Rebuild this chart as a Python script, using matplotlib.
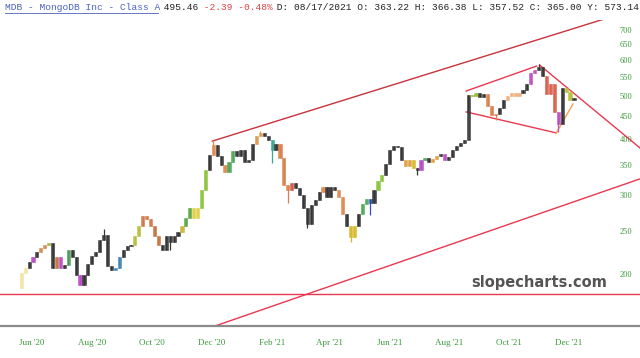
import numpy as np
import pandas as pd
import matplotlib
matplotlib.use('Agg')
import matplotlib.pyplot as plt
import matplotlib.dates as mdates
from matplotlib.ticker import FixedLocator, NullLocator, FuncFormatter
from matplotlib.lines import Line2D

# ---- data, one bar every 4 calendar days ----
first_open = 186
closes = [201, 207, 213, 218, 224, 229, 232, 235, 207, 218,
          207, 210, 227, 218, 199, 189, 199, 211, 220, 224,
          238, 245, 209, 204, 207, 218, 227, 231, 233, 243,
          256, 269, 265, 256, 243, 233, 227, 243, 236, 243,
          248, 256, 267, 281, 267, 281, 308, 341, 369, 388,
          367, 350, 338, 356, 376, 367, 378, 356, 359, 390,
          407, 413, 407, 398, 378, 390, 363, 316, 308, 319,
          311, 300, 281, 259, 285, 293, 305, 313, 298, 313,
          308, 298, 272, 256, 242, 256, 272, 287, 294, 289,
          308, 322, 333, 352, 378, 386, 384, 359, 348, 359,
          345, 341, 359, 363, 356, 362, 367, 371, 359, 365,
          378, 386, 392, 398, 502, 499, 506, 497, 504, 474,
          453, 455, 469, 489, 499, 506, 500, 507, 515, 532,
          562, 570, 580, 553, 504, 531, 460, 432, 520, 510,
          489, 494]
# long wicks: bar index -> extreme price
wick_lows = {38: 227, 64: 354, 68: 288, 73: 254, 84: 236, 89: 271,
             101: 333, 114: 460, 121: 441, 137: 415}
wick_highs = {21: 252, 49: 396, 61: 417, 132: 588}

# trend lines: ((date, price), (date, price))
upper_channel = (('2020-12-02', 396), ('2021-10-29', 665))
lower_channel = (('2021-05-19', 204.5), ('2022-02-11', 326))
support_level = 181
wedge_top = (('2021-08-18', 512), ('2021-10-29', 582))
wedge_drop = (('2021-11-01', 585), ('2022-02-11', 383))
wedge_bottom = (('2021-08-18', 460), ('2021-11-18', 413))
wedge_right = (('2021-11-18', 413), ('2021-12-05', 479))

y_ticks = [200, 250, 300, 350, 400, 450, 500, 550, 600, 650, 700]
x_ticks = pd.date_range('2020-06-01', '2021-12-01', freq='2MS')

# colour highlights for some candles (start, end, colour)
highlights = [(0, 1, '#f3e3a3'), (3, 3, '#b84dc4'), (5, 6, '#d98a4e'),
              (7, 7, '#9cb83a'), (9, 9, '#c9743f'), (10, 10, '#b84dc4'),
              (12, 12, '#4f9a5a'), (15, 15, '#b84dc4'), (24, 25, '#3f86b5'),
              (29, 30, '#b8c03a'), (31, 33, '#d07a4e'), (34, 35, '#c9743f'),
              (41, 41, '#c8b83a'), (42, 43, '#5aa844'), (44, 45, '#e2d04a'),
              (46, 47, '#8cc43c'), (49, 49, '#e08a50'), (52, 52, '#e08a50'),
              (53, 54, '#4fa85a'), (60, 61, '#e09a50'), (64, 64, '#3aa890'),
              (66, 68, '#d9804e'), (69, 69, '#d05a4a'), (77, 77, '#e08a50'),
              (81, 82, '#e08a50'), (84, 85, '#d8b82a'), (87, 88, '#4fa85a'),
              (89, 89, '#3050c0'), (91, 92, '#8cc43c'), (98, 99, '#e0a040'),
              (100, 100, '#d8b82a'), (102, 102, '#b84dc4'), (103, 103, '#4fa85a'),
              (105, 106, '#e0a040'), (108, 108, '#b84dc4'), (115, 116, '#9cb83a'),
              (119, 121, '#d9804e'), (124, 127, '#f0b080'), (130, 131, '#c050c0'),
              (134, 136, '#d9604e'), (137, 137, '#c050c0'), (139, 140, '#b8c03a')]

dates = pd.date_range('2020-05-21', periods=len(closes), freq='4D')
x = mdates.date2num(dates.to_pydatetime())
closes = np.array(closes, dtype=float)
opens = np.concatenate([[first_open], closes[:-1]])
body_lo = np.minimum(opens, closes)
body_hi = np.maximum(opens, closes)
lows = body_lo.copy()
highs = body_hi.copy()
for i, v in wick_lows.items():
    lows[i] = v
for i, v in wick_highs.items():
    highs[i] = v

colors = ['#363636'] * len(closes)
for a, b, c in highlights:
    for i in range(a, b + 1):
        colors[i] = c

x_left = mdates.date2num(pd.Timestamp('2020-04-29 08:00').to_pydatetime())
x_right = mdates.date2num(pd.Timestamp('2022-02-11 10:00').to_pydatetime())

fig = plt.figure(figsize=(6.4, 3.58), dpi=100, facecolor='white')
ax = fig.add_axes([0, 32 / 358, 1, 306 / 358])
ax.set_yscale('log')

ax.vlines(x, lows, highs, colors=colors, linewidth=0.9, zorder=3)
ax.bar(x, body_hi - body_lo, bottom=body_lo, width=3.2, color=colors,
       edgecolor=colors, linewidth=0.4, alpha=0.92, zorder=3)


def to_num(d):
    return mdates.date2num(pd.Timestamp(d).to_pydatetime())


def trend(pts, color, extend_left=False, extend_right=False):
    # straight segment in log space, optionally run on past the axes edges
    (d1, p1), (d2, p2) = pts
    x1, x2 = to_num(d1), to_num(d2)
    slope = (np.log(p2) - np.log(p1)) / (x2 - x1)
    xa = x_left - 30 if extend_left else x1
    xb = x_right + 30 if extend_right else x2
    ya = np.exp(np.log(p1) + slope * (xa - x1))
    yb = np.exp(np.log(p1) + slope * (xb - x1))
    ax.plot([xa, xb], [ya, yb], color=color, linewidth=1.0, zorder=2)


trend(upper_channel, '#c8323c', extend_right=True)
trend(lower_channel, '#e8384f', extend_left=True, extend_right=True)
ax.axhline(support_level, color='#e8384f', linewidth=1.0, zorder=2)
trend(wedge_top, '#e8384f')
trend(wedge_drop, '#e8384f', extend_right=True)
trend(wedge_bottom, '#e8384f')
trend(wedge_right, '#f0a050')

ax.set_xlim(x_left, x_right)
ax.set_ylim(153.4, 737)

ax.yaxis.tick_right()
ax.yaxis.set_major_locator(FixedLocator(y_ticks))
ax.yaxis.set_minor_locator(NullLocator())
ax.yaxis.set_major_formatter(FuncFormatter(lambda v, p: '%d' % v))
ax.tick_params(axis='y', length=0, pad=-14.5, labelsize=6, labelcolor='#3a9a3a')
for t in ax.get_yticklabels():
    t.set_fontfamily('Liberation Serif')

ax.xaxis.set_major_locator(FixedLocator(mdates.date2num(x_ticks.to_pydatetime())))
ax.xaxis.set_minor_locator(NullLocator())
ax.xaxis.set_major_formatter(mdates.DateFormatter("%b '%y"))
ax.tick_params(axis='x', length=0, pad=9.5, labelsize=6.5, labelcolor='#3a9a3a')
for t in ax.get_xticklabels():
    t.set_fontfamily('Liberation Serif')

for s in ['top', 'left', 'right']:
    ax.spines[s].set_visible(False)
ax.spines['bottom'].set_color('#8a8a8a')
ax.spines['bottom'].set_linewidth(1.6)

# watermark
fig.text(607 / 640, 1 - 283 / 358, 'slopecharts.com', ha='right', va='center',
         fontsize=10.5, fontweight='bold', color='#555555', family='DejaVu Sans')

# header line, monospace
cw = 6.8 * 100 / 72 * 0.6  # char width in px
x0 = 5
yh = 1 - 8 / 358
pieces = [('MDB - MongoDB Inc - Class A', '#4a62c0'), (' 495.46', '#222222'),
          (' -2.39 -0.48%', '#e04040'),
          (' D: 08/17/2021 O: 363.22 H: 366.38 L: 357.52 C: 365.00 Y: 573.14', '#222222')]
n = 0
for txt, col in pieces:
    fig.text((x0 + n * cw) / 640, yh, txt, ha='left', va='center', fontsize=6.8,
             color=col, family='Liberation Mono')
    n += len(txt)
fig.add_artist(Line2D([x0 / 640, (x0 + 27 * cw) / 640], [1 - 12.5 / 358, 1 - 12.5 / 358],
                      color='#4a62c0', linewidth=0.6, transform=fig.transFigure))

fig.savefig('out.png', dpi=100, facecolor='white')
